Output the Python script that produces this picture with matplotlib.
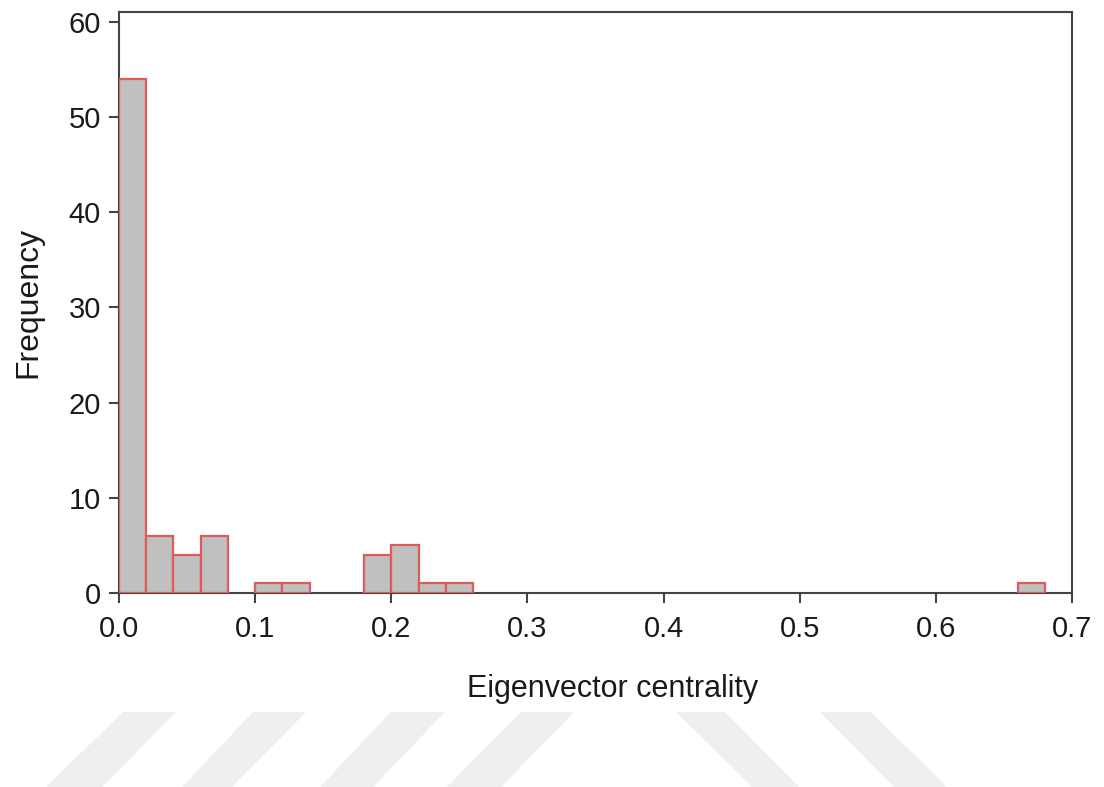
import matplotlib
matplotlib.use("Agg")
import matplotlib.pyplot as plt
from matplotlib.patches import Polygon
from matplotlib.ticker import FormatStrFormatter

# histogram of eigenvector centrality, bin width 0.02
bin_width = 0.02
bin_lefts = [round(i * bin_width, 2) for i in range(35)]
counts = [54, 6, 4, 6, 0, 1, 1, 0, 0, 4, 5, 1, 1,
          0, 0, 0, 0, 0, 0, 0, 0, 0, 0, 0, 0, 0, 0, 0, 0, 0, 0, 0, 0,
          1, 0]
x_ticks = [0.0, 0.1, 0.2, 0.3, 0.4, 0.5, 0.6, 0.7]
y_ticks = [0, 10, 20, 30, 40, 50, 60]

plt.rcParams['font.family'] = ['Liberation Sans', 'DejaVu Sans']

fig = plt.figure(figsize=(11.04, 7.87), dpi=100)

# faint watermark stripes along the bottom edge (figure pixels)
stripes = [
    [(123, 712), (176, 712), (102, 787), (46, 787)],
    [(253, 712), (306, 712), (232, 787), (182, 787)],
    [(391, 712), (445, 712), (373, 787), (320, 787)],
    [(521, 712), (574, 712), (501, 787), (447, 787)],
    [(676, 712), (725, 712), (799, 787), (752, 787)],
    [(820, 712), (871, 712), (947, 787), (894, 787)],
]
W, H = 1104, 787
for s in stripes:
    pts = [(x / W, 1 - y / H) for x, y in s]
    fig.patches.append(Polygon(pts, closed=True, transform=fig.transFigure,
                               facecolor='#efefef', edgecolor='none', zorder=0))

ax = fig.add_axes([119 / W, 1 - 593 / H, (1072 - 119) / W, (593 - 12) / H])

lefts = [l for l, c in zip(bin_lefts, counts) if c > 0]
heights = [c for c in counts if c > 0]
ax.bar(lefts, heights, width=bin_width, align='edge',
       facecolor='#c0c0c0', edgecolor='#e05a5a', linewidth=1.6, zorder=3)

ax.set_xlim(0, 0.7)
ax.set_ylim(0, 61)
ax.set_xticks(x_ticks)
ax.set_yticks(y_ticks)
ax.xaxis.set_major_formatter(FormatStrFormatter('%.1f'))

for sp in ax.spines.values():
    sp.set_color('#444444')
    sp.set_linewidth(1.5)
    sp.set_zorder(2)

ax.tick_params(direction='out', length=7, width=1.5, color='#444444',
               labelsize=21, labelcolor='#1a1a1a')
ax.tick_params(axis='x', pad=9)
ax.tick_params(axis='y', pad=6)

ax.set_xlabel('Eigenvector centrality', fontsize=22, color='#1a1a1a', labelpad=22)
ax.xaxis.label.set_x(0.518)
ax.set_ylabel('Frequency', fontsize=23, color='#1a1a1a', labelpad=18)

fig.savefig('out.png', dpi=100)
